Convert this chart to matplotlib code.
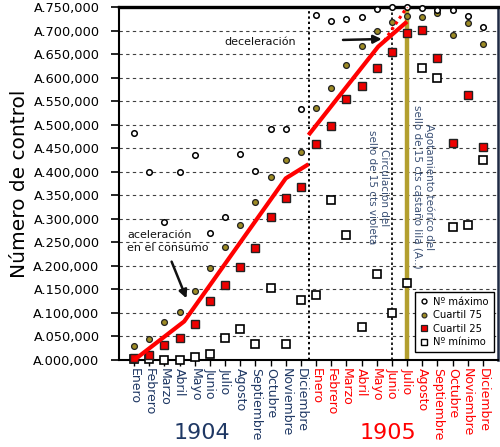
import numpy as np
import matplotlib
matplotlib.use("Agg")
import matplotlib.pyplot as plt
from matplotlib.lines import Line2D

# ---------------- data (values in thousands) ----------------
months = ['Enero', 'Febrero', 'Marzo', 'Abril', 'Mayo', 'Junio', 'Julio',
          'Agosto', 'Septiembre', 'Octubre', 'Noviembre', 'Diciembre']
years = ['1904', '1905']

max_1904 = [483, 400, 294, 400, 435, 269, 303, 438, 401, 491, 490, 533]
max_1905 = [733, 721, 724, 729, 746, 750, 750, 747, 744, 744, 731, 708]
q75_1904 = [30, 44, 81, 102, 147, 195, 241, 286, 336, 388, 425, 441]
q75_1905 = [535, 577, 627, 668, 699, 719, 731, 728, 738, 690, 715, 671]
q25_1904 = [4, 11, 31, 47, 77, 126, 159, 197, 237, 304, 345, 367]
q25_1905 = [458, 497, 554, 583, 620, 655, 694, 701, 641, 462, 564, 453]
min_1904 = [2, 2, 0, 1, 6, 12, 46, 66, 33, 154, 33, 127]
min_1905 = [138, 340, 266, 71, 182, 99, 163, 620, 600, 282, 287, 426]

# hand-drawn trend lines (category index, value)
trend1_x = [0, 3.3, 10, 11.5]
trend1_y = [0, 82, 386, 416]
trend2_x = [11.5, 16.1, 18]
trend2_y = [478, 666, 719]
trend3_x = [16.5, 18]
trend3_y = [678, 750]

y_ticks = list(range(0, 751, 50))

# ---------------- figure ----------------
NAVY = '#1f3864'
OLIVE_LINE = '#b39f2f'
OLIVE_DOT = '#9d8b25'
TXT_BLUE = '#3a5075'

fig = plt.figure(figsize=(5, 4.47), dpi=100)
ax = fig.add_axes([0.238, 0.1946, 0.758, 0.7897])

x = np.arange(24)
vmax = max_1904 + max_1905
vq75 = q75_1904 + q75_1905
vq25 = q25_1904 + q25_1905
vmin = min_1904 + min_1905

ax.set_xlim(-1, 24)
ax.set_ylim(0, 750)

# grid
for yv in y_ticks[1:-1]:
    ax.axhline(yv, color='#404040', lw=0.8, ls=(0, (3, 3)), zorder=0)

# vertical reference lines
ax.axvline(11.5, color='black', lw=1.4, ls=(0, (1.2, 1.5)), zorder=1)
ax.axvline(17, color='black', lw=1.2, ls=(0, (1.5, 1.5)), zorder=1)
ax.axvline(18, color=OLIVE_LINE, lw=3.2, zorder=1)

# markers
ax.plot(x, vmin, ls='none', marker='s', ms=6.2, mfc='white', mec='black',
        mew=1.2, zorder=3, clip_on=False)
ax.plot(x, vq25, ls='none', marker='s', ms=6.2, mfc='#ee0000', mec='#222222',
        mew=1.0, zorder=3, clip_on=False)
ax.plot(x, vq75, ls='none', marker='o', ms=4.2, mfc=OLIVE_DOT, mec='#222222',
        mew=0.9, zorder=4, clip_on=False)
ax.plot(x, vmax, ls='none', marker='o', ms=4.0, mfc='white', mec='black',
        mew=1.1, zorder=4, clip_on=False)

# trend lines
ax.plot(trend1_x, trend1_y, color='red', lw=3.0, zorder=5, solid_capstyle='butt')
ax.plot(trend2_x, trend2_y, color='red', lw=3.0, zorder=5, solid_capstyle='butt')
ax.plot(trend3_x, trend3_y, color='red', lw=2.2, ls=(0, (1, 1.2)), zorder=5)

# annotations
ax.text(16.1, 367, 'Circulación del\nsello de 15 cts violeta', rotation=270,
        ha='center', va='center', multialignment='center', color=TXT_BLUE,
        fontsize=7.5, zorder=2)
ax.text(19.1, 367, 'Agotamiento teórico del\nsello de 15 cts castaño lila (A..)',
        rotation=270, ha='center', va='center', multialignment='center',
        color=TXT_BLUE, fontsize=7.5, zorder=2)

ax.annotate('deceleración', xy=(16.33, 682), xytext=(8.3, 676),
            ha='center', va='center', fontsize=8, color='#111111',
            arrowprops=dict(arrowstyle='-|>', color='#111111', lw=1.8,
                            mutation_scale=12, shrinkA=32, shrinkB=0))
ax.text(-0.45, 251, 'aceleración\nen el consumo', ha='left', va='center',
        fontsize=8, color='#111111', linespacing=1.35)
ax.annotate('', xy=(3.45, 131), xytext=(2.47, 209),
            arrowprops=dict(arrowstyle='-|>', color='#111111', lw=1.8,
                            mutation_scale=12, shrinkA=0, shrinkB=0))

# axes styling
ax.set_yticks(y_ticks)
ax.set_yticklabels(['A.%03d,000' % v for v in y_ticks], fontsize=9.3)
ax.tick_params(axis='y', direction='out', length=6, width=1.2, pad=8)
ax.set_xticks(x)
ax.set_xticklabels(months + months, rotation=270, fontsize=9, va='top',
                   ha='center')
for i, lab in enumerate(ax.get_xticklabels()):
    lab.set_color(NAVY if i < 12 else 'red')
ax.tick_params(axis='x', direction='out', length=4, width=1.0, pad=2)

ax.spines['top'].set_linewidth(2.4)
ax.spines['left'].set_linewidth(1.5)
ax.spines['bottom'].set_linewidth(1.5)
ax.spines['right'].set_linewidth(1.8)
ax.spines['right'].set_color('#1f2a44')

ax.set_ylabel('Número de control', fontsize=14.5)
ax.yaxis.set_label_coords(-0.237, 0.5)

fig.text(0.404, 0.031, years[0], fontsize=16, color=NAVY, ha='center', va='center')
fig.text(0.775, 0.031, years[1], fontsize=16, color='red', ha='center', va='center')

handles = [
    Line2D([], [], ls='none', marker='o', ms=3.5, mfc='white', mec='black', mew=1.0),
    Line2D([], [], ls='none', marker='o', ms=3.5, mfc=OLIVE_DOT, mec='#222222', mew=0.8),
    Line2D([], [], ls='none', marker='s', ms=5, mfc='#ee0000', mec='#222222', mew=0.9),
    Line2D([], [], ls='none', marker='s', ms=5, mfc='white', mec='black', mew=1.0),
]
leg = ax.legend(handles, ['Nº máximo', 'Cuartil 75', 'Cuartil 25', 'Nº mínimo'],
                loc='lower right', bbox_to_anchor=(0.989, 0.0227),
                borderaxespad=0, fontsize=7.2, fancybox=False, framealpha=1,
                edgecolor='black', handlelength=0.8, handletextpad=0.5,
                labelspacing=0.35, borderpad=0.5)
leg.get_frame().set_linewidth(1.0)
leg.set_zorder(6)

fig.savefig('out.png', dpi=100)
